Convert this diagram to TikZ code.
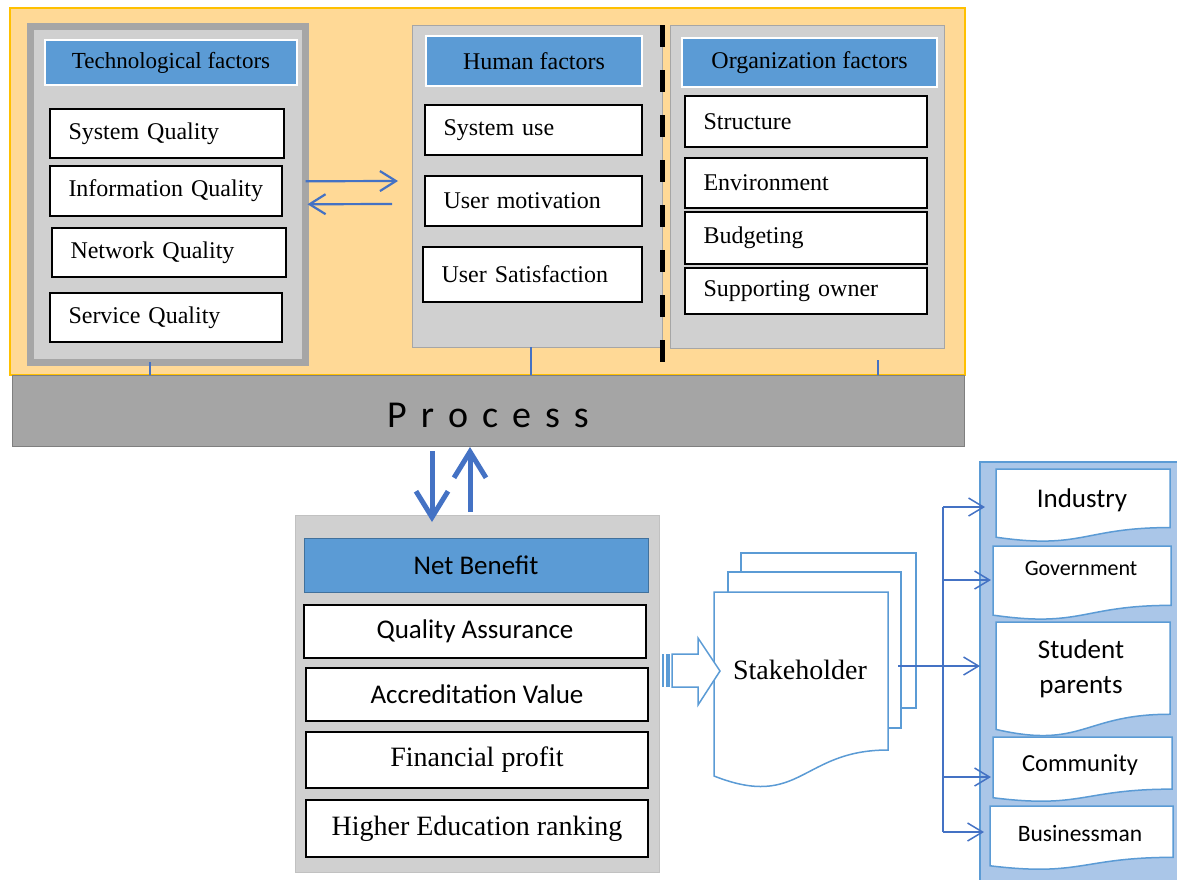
\documentclass[tikz,border=0pt]{standalone}
\usepackage{fontspec}
\setmainfont{Liberation Serif}
\newfontfamily\calibri{Carlito}
\usetikzlibrary{arrows.meta}
\definecolor{orangebg}{RGB}{255,217,150}
\definecolor{orangeln}{RGB}{255,192,0}
\definecolor{panelgray}{RGB}{208,208,208}
\definecolor{panelline}{RGB}{166,166,166}
\definecolor{headblue}{RGB}{91,155,213}
\definecolor{headline}{RGB}{65,113,156}
\definecolor{arrowblue}{RGB}{68,114,196}
\definecolor{colblue}{RGB}{170,198,232}
\definecolor{procgray}{RGB}{165,165,165}
\definecolor{procline}{RGB}{127,127,127}
% document shape with a wavy bottom: x1, y1, x2, height
\newcommand\docshape[5]{\draw[#1] (#2,#3) -- (#4,#3) -- (#4,{#3+0.802*#5})
 .. controls ({(#2+#4)/2},{#3+0.802*#5}) and ({(#2+#4)/2},{#3+1.1075*#5}) .. (#2,{#3+0.934*#5}) -- cycle;}
\tikzset{
 every node/.style={outer sep=0pt},
 panel/.style={draw=panelline, fill=panelgray, anchor=north west, inner sep=0pt},
 head/.style={draw=white, line width=2.5pt, fill=headblue, anchor=north west, inner sep=0pt,
  font=\fontsize{24}{28}\selectfont},
 item/.style={draw=black, line width=1.3pt, fill=white, anchor=north west, inner xsep=18.5pt,
  inner ysep=0pt, align=left, font=\fontsize{24}{28}\selectfont},
 benefit/.style={draw=black, line width=1.3pt, fill=white, anchor=north west, inner sep=0pt,
  minimum width=342pt},
 doc/.style={draw=headblue, line width=1.5pt, fill=white},
 link/.style={draw=arrowblue, line width=1.5pt},
 tip/.style={-{Straight Barb[length=15pt,width=18pt]}},
 midarrow/.style={draw=arrowblue, line width=2.2pt, -{Straight Barb[length=16pt,width=20pt]}},
 bigarrow/.style={draw=arrowblue, line width=5pt, -{Straight Barb[length=26pt,width=32pt]}},
 tick/.style={draw=arrowblue, line width=2pt}
}
\begin{document}
\begin{tikzpicture}[x=1pt,y=-1pt]
\useasboundingbox (0,0) rectangle (1177,879);
% upper frame and process bar
\node[draw=orangeln, fill=orangebg, line width=1.5pt, anchor=north west, inner sep=0pt,
 minimum width=955pt, minimum height=367pt] (frame) at (10,8) {};
\node[anchor=north west, draw=procline, fill=procgray, line width=1pt, minimum width=952pt,
 minimum height=71pt, inner sep=0pt, text height=35pt, font=\calibri\fontsize{38}{40}\selectfont]
 (process) at (12,375) {P\hspace{14pt}r\hspace{14pt}o\hspace{14pt}c\hspace{14pt}e\hspace{14pt}s\hspace{14pt}s};

% technological factors
\node[panel, line width=7pt, minimum width=275.5pt, minimum height=335.5pt] (tech) at (30,26.5) {};
\node[head, minimum width=252pt, minimum height=45pt, font=\fontsize{23}{28}\selectfont]
 (techhead) at (45,40) {Technological factors};
\node[item, text width=197pt, minimum height=49pt] (sysq) at (50,109) {System Quality};
\node[item, text width=195pt, minimum height=50pt] (infq) at (50,166) {Information Quality};
\node[item, text width=197pt, minimum height=49pt] (netq) at (52,228) {Network Quality};
\node[item, text width=195pt, minimum height=49pt] (serq) at (50,293) {Service Quality};

% human factors
\node[panel, minimum width=250pt, minimum height=322pt] (human) at (412,25) {};
\node[head, minimum width=216pt, minimum height=50pt] (humanhead) at (426,36) {Human factors};
\node[item, text width=180pt, minimum height=50pt] (sysuse) at (425,105) {System use};
\node[item, text width=180pt, minimum height=50pt] (usermot) at (425,176) {User motivation};
\node[item, text width=182pt, minimum height=55pt] (usersat) at (423,247) {User Satisfaction};

% organization factors
\node[panel, minimum width=274pt, minimum height=323pt] (org) at (670,25) {};
\node[head, minimum width=255pt, minimum height=49pt] (orghead) at (682,38) {Organization factors};
\node[item, text width=205pt, minimum height=51pt] (struct) at (685,96) {Structure};
\node[item, text width=205pt, minimum height=50pt] (env) at (685,158) {Environment};
\node[item, text width=205pt, minimum height=52pt] (budget) at (685,212) {Budgeting};
\node[item, text width=205pt, minimum height=46pt] (support) at (685,268) {Supporting owner};

\draw[line width=5pt, dash pattern=on 22pt off 23pt] (human.north east) -- ([yshift=-21pt]human.south east);

\draw[midarrow] ([yshift=13pt]tech.east) -- ([xshift=-14pt,yshift=5pt]human.west);
\draw[midarrow] ([xshift=-20pt,yshift=-18pt]human.west) -- ([xshift=2pt,yshift=-10pt]tech.east);

\draw[tick] ([xshift=-17.5pt]tech.south) -- ([xshift=-17.5pt]tech.south |- process.north);
\draw[tick] ([xshift=-6pt]human.south) -- ([xshift=-6pt]human.south |- process.north);
\draw[tick] ([xshift=71pt,yshift=-12pt]org.south) -- ([xshift=71pt]org.south |- process.north);

% net benefit
\node[panel, draw=panelline!70, line width=1pt, minimum width=364pt, minimum height=357pt] (net) at (295,515) {};
\node[anchor=north west, draw=headline, fill=headblue, line width=1pt, inner sep=0pt, minimum width=344pt,
 minimum height=54pt, font=\calibri\fontsize{27}{30}\selectfont] (nethead) at (304,538) {Net Benefit};
\node[benefit, minimum height=53pt, font=\calibri\fontsize{27}{30}\selectfont] (qa) at (304,605) {Quality Assurance};
\node[benefit, minimum height=53pt, font=\calibri\fontsize{27}{30}\selectfont] (acc) at (306,668) {Accreditation Value};
\node[benefit, minimum height=56pt, font=\fontsize{28}{30}\selectfont] (fin) at (306,732) {Financial profit};
\node[benefit, minimum height=57pt, font=\fontsize{28}{30}\selectfont] (rank) at (306,800) {Higher Education ranking};

\draw[bigarrow] ([xshift=-56pt,yshift=-5pt]process.south) -- ([xshift=-45pt,yshift=-7pt]net.north);
\draw[bigarrow] ([xshift=-7pt,yshift=3pt]net.north) -- ([xshift=-18pt,yshift=-1pt]process.south);

% stakeholder
\draw[doc] (741,553) rectangle (916,708);
\draw[doc] (728,572) rectangle (901,728);
\docshape{doc}{714}{592}{888}{197}
\node[font=\fontsize{28}{30}\selectfont] (stake) at (800,670) {Stakeholder};
\fill[headblue] (662,654) rectangle (664,687);
\fill[headblue] (666,654) rectangle (670,687);
\draw[doc] (672,654) -- (698,654) -- (698,638) -- (720,671) -- (698,705) -- (698,687) -- (672,687) -- cycle;

% receivers
\draw[draw=headblue, fill=colblue, line width=1.5pt] (980,462) rectangle (1182,884);
\docshape{doc}{996}{469}{1170}{73}
\docshape{doc}{993}{546}{1171}{74}
\docshape{doc}{996}{622}{1170}{115}
\docshape{doc}{993}{737}{1172}{65}
\docshape{doc}{990}{806}{1173}{64}
\node[font=\calibri\fontsize{27}{30}\selectfont] (industry) at (1082,500) {Industry};
\node[font=\calibri\fontsize{22}{24}\selectfont] (gov) at (1081,568) {Government};
\node[align=center, font=\calibri\fontsize{27}{35}\selectfont] (student) at (1081,669) {Student\\parents};
\node[font=\calibri\fontsize{24.5}{26}\selectfont] (community) at (1080,765) {Community};
\node[font=\calibri\fontsize{23.5}{26}\selectfont] (business) at (1080,833) {Businessman};

\coordinate (out) at (898,666);
\coordinate (jt) at (943,507);
\coordinate (jb) at (943,832);
\coordinate (ind-in) at (985,507);
\coordinate (gov-in) at (991,580);
\coordinate (stu-in) at (980,666);
\coordinate (com-in) at (991,777);
\coordinate (bus-in) at (984,832);
\draw[link] (jt) -- (jb);
\draw[link, tip] (out) -- (stu-in);
\draw[link, tip] (jt) -- (ind-in);
\draw[link, tip] (jt |- gov-in) -- (gov-in);
\draw[link, tip] (jt |- com-in) -- (com-in);
\draw[link, tip] (jb) -- (bus-in);
\end{tikzpicture}
\end{document}
